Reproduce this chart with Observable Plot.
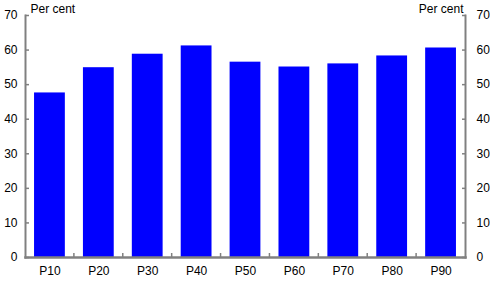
<!DOCTYPE html>
<html><head><meta charset="utf-8">
<script src="https://cdn.jsdelivr.net/npm/d3@7"></script>
<script src="https://cdn.jsdelivr.net/npm/@observablehq/plot@0.6"></script>
<style>body{margin:0;background:#fff;} svg{display:block}</style>
</head><body><div id="chart"></div>
<script>
const categories = ["P10", "P20", "P30", "P40", "P50", "P60", "P70", "P80", "P90"];
const values = [47.6, 54.9, 58.8, 61.2, 56.5, 55.1, 56.0, 58.3, 60.6];
const yTicks = [0, 10, 20, 30, 40, 50, 60, 70];
const unitLabel = "Per cent";

const data = categories.map((c, i) => ({category: c, value: values[i]}));
const axisColor = "#808080";
const font = "'Liberation Sans', Arial, sans-serif";

function boundaryTicks(index, scales) {
  const x = scales.x, y = scales.y;
  const bw = x.bandwidth ? x.bandwidth() : 0;
  const step = x(categories[1]) - x(categories[0]);
  const g = d3.create("svg:g");
  g.selectAll("line").data(categories.slice(1)).join("line")
    .attr("x1", c => x(c) - (step - bw) / 2)
    .attr("x2", c => x(c) - (step - bw) / 2)
    .attr("y1", y(0))
    .attr("y2", y(0) - 4)
    .attr("stroke", axisColor)
    .attr("stroke-width", 1.5);
  return g.node();
}

const chart = Plot.plot({
  width: 490, height: 301,
  marginLeft: 25, marginRight: 25, marginTop: 15, marginBottom: 44,
  style: {fontFamily: font, fontSize: "12px", color: "#000", background: "#fff"},
  x: {domain: categories, paddingInner: 0.37, paddingOuter: 0.185, round: false, label: null},
  y: {domain: [0, 70], label: null},
  marks: [
    Plot.barY(data, {x: "category", y: "value", fill: "#0000FF"}),
    Plot.axisY({anchor: "left", ticks: yTicks, tickSize: -4, tickPadding: 12, stroke: axisColor, strokeWidth: 1.5, fill: "#000", fontSize: 12, label: null}),
    Plot.axisY({anchor: "right", ticks: yTicks, tickSize: -4, tickPadding: 15, stroke: axisColor, strokeWidth: 1.5, fill: "#000", fontSize: 12, label: null}),
    Plot.axisX({tickSize: 0, tickPadding: 9, fill: "#000", fontSize: 12, label: null}),
    Plot.frame({anchor: "left", stroke: axisColor, strokeWidth: 2}),
    Plot.frame({anchor: "right", stroke: axisColor, strokeWidth: 2}),
    Plot.frame({anchor: "bottom", stroke: axisColor, strokeWidth: 2.5}),
    boundaryTicks,
    Plot.text([unitLabel], {frameAnchor: "top-left", textAnchor: "start", lineAnchor: "bottom", dx: 5, dy: -2.5, fontSize: 12, fill: "#000"}),
    Plot.text([unitLabel], {frameAnchor: "top-right", textAnchor: "end", lineAnchor: "bottom", dx: -2, dy: -2.5, fontSize: 12, fill: "#000"})
  ]
});
document.getElementById("chart").appendChild(chart);
</script>
</body></html>
